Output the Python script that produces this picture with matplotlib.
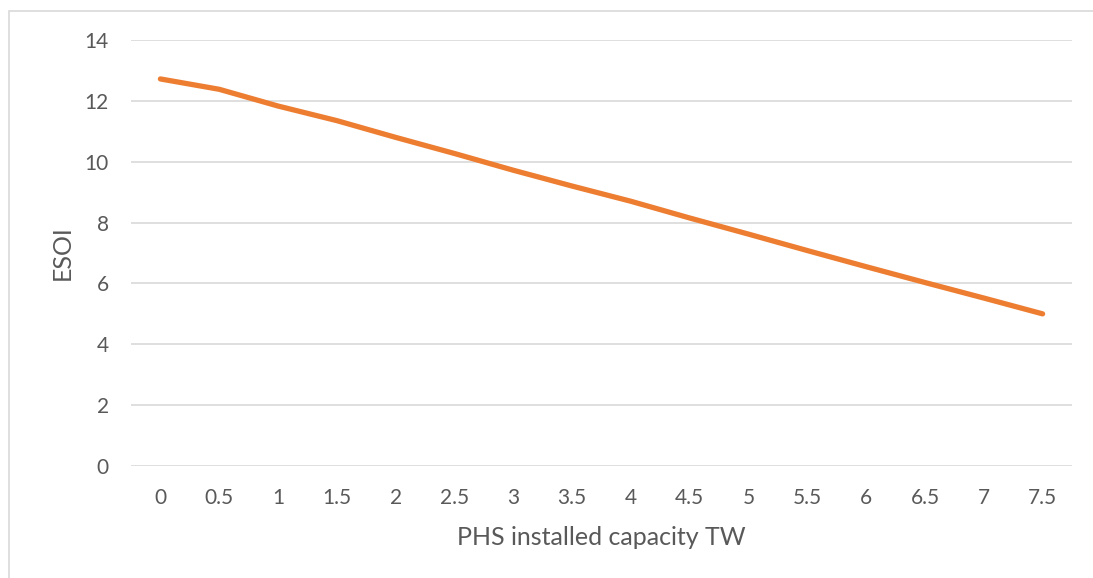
import matplotlib.pyplot as plt
from matplotlib.patches import Rectangle

# Capacité PHS installée (TW) et ESOI correspondant
capacite = ["0", "0.5", "1", "1.5", "2", "2.5", "3", "3.5",
            "4", "4.5", "5", "5.5", "6", "6.5", "7", "7.5"]
esoi = [12.72, 12.38, 11.83, 11.35, 10.80, 10.27, 9.72, 9.20,
        8.70, 8.15, 7.62, 7.08, 6.55, 6.03, 5.52, 5.00]
y_ticks = [0, 2, 4, 6, 8, 10, 12, 14]

plt.rcParams["font.family"] = ["Lato", "DejaVu Sans"]
gris_texte = "#595959"
gris_grille = "#D9D9D9"

fig = plt.figure(figsize=(10.93, 5.78), dpi=100)
ax = fig.add_axes([131 / 1093, 1 - 466 / 578, (1072 - 131) / 1093, (466 - 40) / 578])

# cadre du graphique (coupé à droite et en bas)
fig.patches.append(Rectangle((9 / 1093, -0.1), 1.2, 1 - 11 / 578 + 0.1,
                             transform=fig.transFigure, fill=False,
                             edgecolor=gris_grille, linewidth=1.2))

x = list(range(len(capacite)))
ax.plot(x, esoi, color="#ED7D31", linewidth=3.8, solid_capstyle="round",
        solid_joinstyle="round", zorder=3)

ax.set_xlim(-0.5, len(capacite) - 0.5)
ax.set_ylim(0, 14)
ax.set_xticks(x)
ax.set_xticklabels(capacite)
ax.set_yticks(y_ticks)
ax.yaxis.grid(True, color=gris_grille, linewidth=1.2)
ax.set_axisbelow(True)
ax.tick_params(length=0, labelsize=15, colors=gris_texte)
ax.tick_params(axis="x", pad=16)
ax.tick_params(axis="y", pad=16)
for s in ax.spines.values():
    s.set_visible(False)

ax.set_xlabel("PHS installed capacity TW", fontsize=18, color=gris_texte, labelpad=13)
ax.set_ylabel("ESOI", fontsize=18, color=gris_texte, labelpad=8)

fig.savefig("out.png", dpi=100)
